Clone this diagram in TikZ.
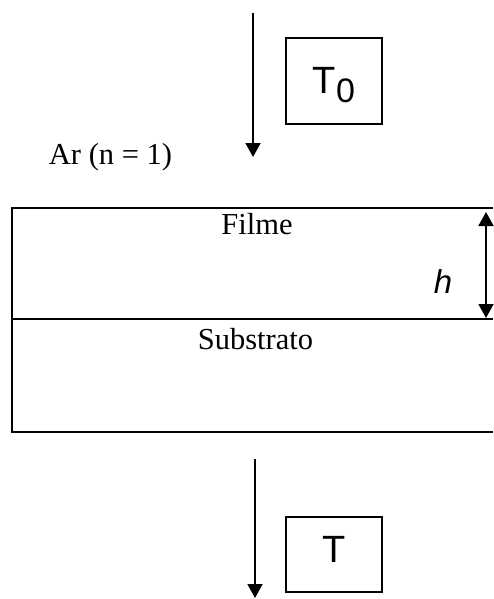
\documentclass[tikz,border=0pt]{standalone}
\usepackage{fontspec}
\setmainfont{Liberation Serif}
\newfontfamily\arialfont{Liberation Sans}
\usetikzlibrary{arrows.meta}

\begin{document}
\begin{tikzpicture}[x=1pt, y=-1pt, every path/.style={line width=1.9pt},
	lbl/.style={inner sep=0pt, font=\fontsize{30.5}{30.5}\selectfont},
	tbox/.style={draw, line width=1.5pt, inner sep=0pt, minimum width=96pt, font=\arialfont\fontsize{38}{38}\selectfont},
	tip/.style={-{Triangle[width=15pt, length=14pt]}}]
			\useasboundingbox (0,0) rectangle (493,599);
			% top flux
			\coordinate (a) at (253,13);
			\coordinate (b) at (253,157);
			\draw[tip] (a)--(b);
			\node[tbox, minimum height=86pt, text height=30pt, text depth=4pt] (t0) at (334,81) {T\raisebox{-9pt}{\fontsize{34}{34}\selectfont 0}};
			\node[lbl, anchor=base west] (ar) at (48,164) {Ar (n = 1)};
			% film and substrate
			\draw[line width=2.4pt] (493,208)--(12,208)--(12,432)--(493,432);
			\draw[line width=2.4pt] (12,319)--(493,319);
			\node[lbl, anchor=base] (f) at (257,234) {Filme};
			\node[lbl, anchor=base] (s) at (255.5,349) {Substrato};
			\coordinate (c) at (486,212);
			\coordinate (d) at (486,318);
			\draw[{Triangle[width=15pt, length=14pt]}-{Triangle[width=15pt, length=14pt]}] (c)--(d);
			\node[inner sep=0pt, anchor=base, font=\arialfont\itshape\fontsize{33}{33}\selectfont] (h) at (443,293) {h};
			% bottom flux
			\coordinate (e) at (255,459);
			\coordinate (g) at (255,598);
			\draw[tip] (e)--(g);
			\node[tbox, minimum height=75pt, text height=20pt, text depth=5pt] (t) at (334,554.5) {T};
		\end{tikzpicture}
\end{document}
